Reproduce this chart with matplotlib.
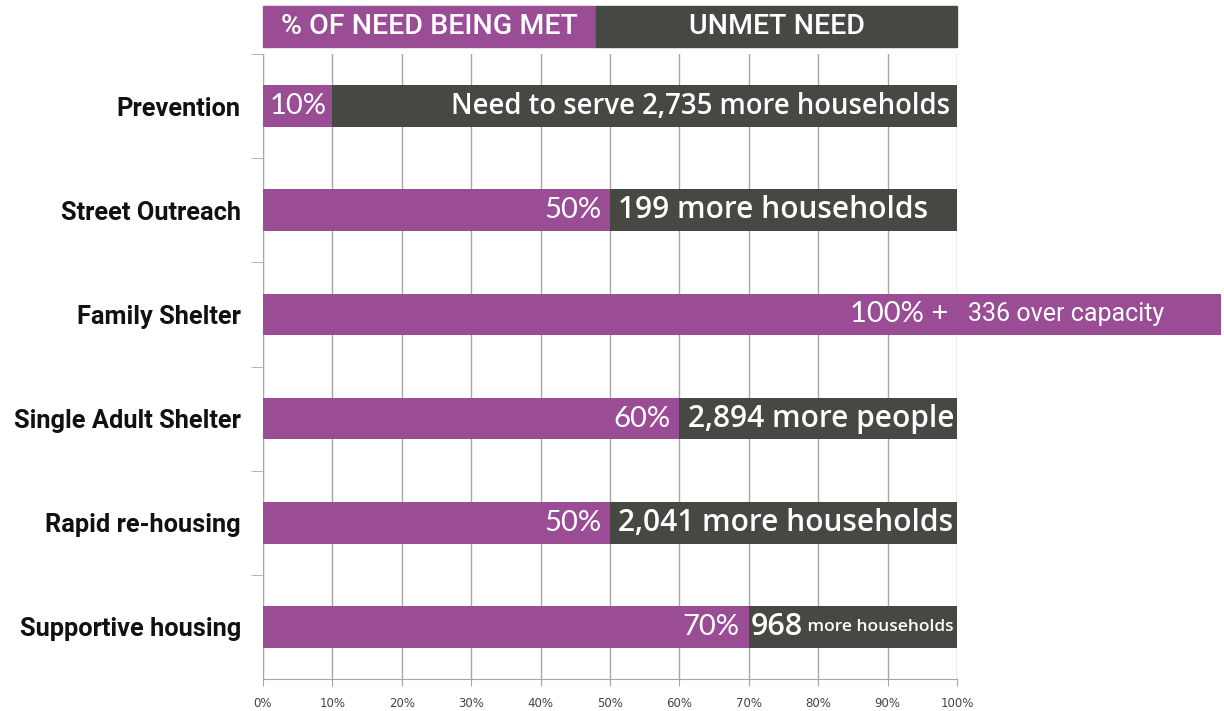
import matplotlib
matplotlib.use("Agg")
import matplotlib.pyplot as plt
from matplotlib import font_manager
from matplotlib.transforms import blended_transform_factory

# Share of need met, by programme (percent)
categories = ["Prevention", "Street Outreach", "Family Shelter",
              "Single Adult Shelter", "Rapid re-housing", "Supportive housing"]
met_pct = [10, 50, 100, 60, 50, 70]
over_capacity_pct = [0, 0, 38, 0, 0, 0]
met_labels = ["10%", "50%", "100% +", "60%", "50%", "70%"]
unmet_labels = ["Need to serve 2,735 more households", "199 more households",
                "336 over capacity", "2,894 more people",
                "2,041 more households", "968"]
x_ticks = list(range(0, 101, 10))
x_tick_labels = [f"{t}%" for t in x_ticks]
header_split = 48
header_labels = ["% OF NEED BEING MET", "UNMET NEED"]

MET = "#9a4d95"
UNMET = "#464844"
GRID = "#a6a6a6"

available = {f.name for f in font_manager.fontManager.ttflist}
narrow = "Liberation Sans Narrow" if "Liberation Sans Narrow" in available else "Roboto"
body = "Roboto"
label_font = "Open Sans"
pct_font = "Lato"

fig = plt.figure(figsize=(12.24, 7.11), dpi=100)
ax = fig.add_axes([263 / 1224, 1 - 679 / 711, (957 - 263) / 1224, 625 / 711])

ypos = list(range(len(categories)))
unmet_pct = [max(0, 100 - m) for m in met_pct]

ax.barh(ypos, met_pct, height=0.4, color=MET, zorder=3)
ax.barh(ypos, unmet_pct, left=met_pct, height=0.4, color=UNMET, zorder=3)
ax.barh(ypos, over_capacity_pct, left=met_pct, height=0.4, color=MET,
        zorder=3, clip_on=False)

ax.set_xlim(0, 100)
ax.set_ylim(len(categories) - 0.5, -0.5)

ax.set_xticks(x_ticks)
ax.set_xticklabels(x_tick_labels, fontsize=8.5, color="#444444", family="DejaVu Sans")
ax.tick_params(axis="x", length=5, color=GRID, pad=8)
ax.set_yticks(ypos)
ax.set_yticklabels(categories, fontsize=18.3, weight="bold", family=body, color="#111111")
ax.tick_params(axis="y", length=0, pad=16)
ax.set_yticks([i - 0.5 for i in range(len(categories))], minor=True)
ax.tick_params(axis="y", which="minor", length=9, color=GRID)

ax.grid(axis="x", color=GRID, linewidth=1, zorder=0)
for side in ("top", "right"):
    ax.spines[side].set_visible(False)
for side in ("left", "bottom"):
    ax.spines[side].set_color(GRID)

# Percentage met, right-aligned at the end of the met segment
for y, m, lab in zip(ypos, met_pct, met_labels):
    if m <= 10:
        ax.text(m / 2, y, lab, ha="center", va="center", color="white",
                fontsize=21, family=pct_font, zorder=4)
    else:
        ax.text(m - 1.3, y, lab, ha="right", va="center", color="white",
                fontsize=21, family=pct_font, zorder=4)

# Unmet need labels
for y, m, extra, lab in zip(ypos, met_pct, over_capacity_pct, unmet_labels):
    if extra > 0:
        ax.text(m + 1.6, y, lab, ha="left", va="center", color="white",
                fontsize=18, family=body, zorder=4, clip_on=False)
    elif m <= 10:
        ax.text(99, y, lab, ha="right", va="center", color="white",
                fontsize=19.8, weight="semibold", family=label_font, zorder=4)
    elif lab == "968":
        t = ax.text(m + 0.3, y, lab, ha="left", va="center", color="white",
                    fontsize=22, weight="semibold", family=label_font, zorder=4)
        ax.annotate(" more households", xycoords=t, xy=(1, 0.5), va="center",
                    ha="left", color="white", fontsize=12.5, weight="semibold",
                    family=label_font, zorder=4, annotation_clip=False)
    else:
        ax.text(m + 1.2, y, lab, ha="left", va="center", color="white",
                fontsize=21.5, weight="semibold", family=label_font, zorder=4)

# Header legend strip above the plot
tr = blended_transform_factory(ax.transData, ax.transAxes)
y0 = (679 - 47) / 625
h = 41 / 625
ax.add_patch(plt.Rectangle((0, y0), header_split, h, transform=tr,
                           color=MET, clip_on=False))
ax.add_patch(plt.Rectangle((header_split, y0), 100 - header_split, h,
                           transform=tr, color=UNMET, clip_on=False))
ax.text(header_split / 2, y0 + h / 2, header_labels[0], transform=tr,
        ha="center", va="center", color="white", fontsize=20.5,
        weight="medium", family=narrow)
ax.text((header_split + 100) / 2, y0 + h / 2, header_labels[1], transform=tr,
        ha="center", va="center", color="white", fontsize=20.5,
        weight="medium", family=narrow)

fig.savefig("out.png", dpi=100, facecolor="white")
